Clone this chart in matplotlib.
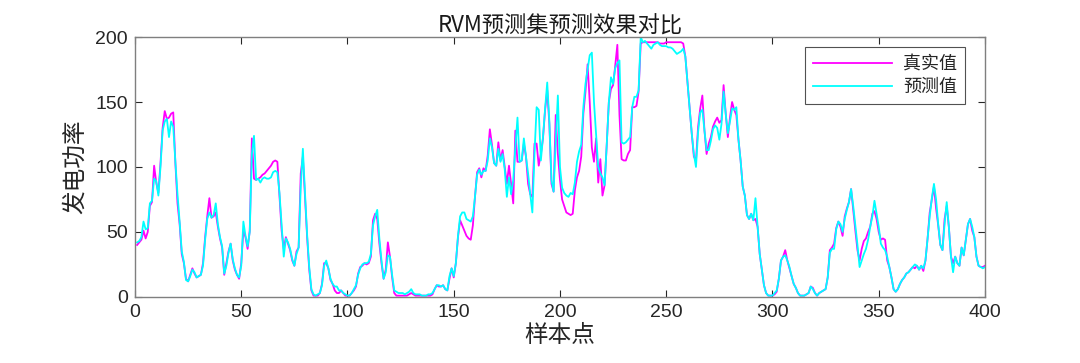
import numpy as np
import matplotlib
matplotlib.use('Agg')
from matplotlib import pyplot as plt

plt.rcParams['font.family'] = ['Noto Sans CJK SC', 'DejaVu Sans']

# 真实值 (samples 1..400)
TRUE_VALS = [
    40, 42, 44, 51, 45, 50, 70, 73, 101, 88,
    80, 103, 130, 143, 137, 138, 141, 142, 103, 72,
    56, 33, 26, 14, 12, 17, 22, 18, 15, 16,
    17, 26, 46, 62, 76, 61, 62, 65, 54, 45,
    38, 17, 26, 35, 41, 28, 21, 17, 14, 26,
    51, 46, 37, 51, 122, 91, 90, 91, 92, 94,
    95, 97, 99, 101, 104, 105, 104, 77, 51, 37,
    46, 41, 36, 28, 24, 35, 38, 95, 108, 77,
    46, 21, 5, 1, 1, 1, 3, 10, 26, 26,
    22, 13, 10, 5, 3, 3, 5, 3, 1, 1,
    1, 3, 5, 8, 18, 23, 24, 26, 25, 26,
    31, 59, 64, 60, 41, 26, 14, 21, 42, 31,
    15, 3, 1, 1, 1, 1, 1, 1, 2, 3,
    2, 1, 1, 1, 1, 1, 1, 1, 1, 2,
    6, 9, 8, 8, 9, 6, 5, 14, 22, 15,
    26, 46, 59, 55, 51, 47, 45, 44, 55, 77,
    96, 99, 92, 99, 97, 109, 129, 117, 103, 101,
    119, 105, 113, 100, 87, 101, 87, 72, 128, 104,
    104, 105, 118, 108, 87, 79, 77, 118, 118, 101,
    110, 122, 144, 159, 133, 87, 81, 140, 110, 90,
    75, 70, 65, 64, 63, 64, 82, 92, 97, 108,
    141, 158, 179, 150, 115, 104, 122, 88, 106, 78,
    86, 117, 150, 160, 163, 178, 194, 140, 106, 105,
    105, 110, 113, 146, 146, 147, 158, 195, 196, 196,
    196, 196, 196, 196, 196, 196, 195, 195, 195, 196,
    196, 196, 196, 196, 196, 196, 196, 195, 185, 165,
    144, 126, 108, 105, 131, 145, 155, 128, 110, 118,
    123, 131, 135, 138, 134, 136, 163, 141, 123, 138,
    150, 144, 140, 121, 105, 85, 78, 63, 60, 64,
    59, 60, 54, 33, 21, 9, 3, 1, 1, 1,
    2, 4, 14, 28, 31, 36, 28, 22, 16, 10,
    7, 3, 1, 1, 1, 2, 3, 8, 7, 3,
    1, 3, 4, 5, 6, 15, 36, 38, 41, 53,
    58, 54, 47, 62, 68, 73, 83, 67, 51, 36,
    28, 37, 43, 45, 50, 54, 64, 66, 60, 50,
    44, 45, 44, 28, 23, 15, 6, 4, 6, 10,
    13, 15, 18, 19, 21, 23, 22, 24, 21, 24,
    20, 28, 45, 65, 75, 85, 68, 55, 40, 36,
    60, 70, 54, 31, 26, 31, 26, 24, 38, 32,
    44, 56, 60, 51, 46, 31, 24, 23, 23, 24,
]

# 预测值 (samples 1..400)
PRED_VALS = [
    42, 43, 46, 58, 52, 53, 72, 74, 91, 89,
    78, 100, 128, 135, 137, 123, 135, 131, 104, 79,
    58, 35, 27, 13, 12, 16, 21, 19, 15, 16,
    17, 24, 44, 60, 65, 61, 63, 72, 56, 46,
    39, 18, 24, 34, 41, 29, 22, 17, 15, 24,
    58, 47, 39, 50, 110, 124, 90, 91, 88, 91,
    92, 91, 91, 92, 96, 97, 96, 80, 55, 31,
    45, 42, 37, 29, 24, 33, 38, 85, 114, 80,
    48, 23, 6, 2, 1, 2, 3, 9, 24, 28,
    22, 14, 10, 8, 8, 5, 5, 3, 2, 1,
    1, 3, 6, 9, 17, 22, 25, 26, 26, 27,
    33, 55, 62, 67, 45, 28, 14, 19, 32, 31,
    17, 5, 4, 3, 3, 3, 2, 3, 4, 6,
    3, 2, 2, 2, 1, 1, 1, 2, 2, 3,
    6, 9, 9, 8, 9, 6, 5, 16, 22, 16,
    26, 47, 62, 65, 65, 60, 59, 58, 62, 77,
    94, 98, 94, 97, 97, 105, 122, 115, 103, 101,
    114, 104, 110, 98, 77, 92, 79, 90, 115, 138,
    104, 105, 122, 108, 95, 79, 65, 110, 146, 144,
    105, 123, 145, 165, 135, 90, 81, 120, 155, 100,
    84, 80, 78, 77, 80, 79, 88, 104, 112, 117,
    146, 164, 175, 186, 188, 150, 125, 100, 95, 92,
    86, 117, 150, 169, 164, 176, 180, 182, 119, 118,
    119, 121, 123, 146, 154, 154, 159, 200, 196, 197,
    195, 193, 191, 194, 195, 196, 194, 193, 193, 193,
    192, 192, 191, 189, 187, 188, 189, 191, 185, 165,
    144, 126, 110, 100, 127, 142, 144, 128, 113, 113,
    120, 129, 132, 130, 121, 133, 158, 141, 126, 135,
    145, 144, 146, 121, 105, 85, 78, 63, 60, 64,
    59, 76, 54, 33, 21, 9, 3, 1, 1, 1,
    3, 5, 14, 28, 31, 32, 28, 23, 16, 10,
    7, 3, 1, 1, 1, 2, 3, 8, 6, 3,
    1, 3, 4, 5, 6, 15, 34, 37, 37, 52,
    58, 56, 50, 60, 67, 73, 83, 70, 55, 40,
    23, 28, 33, 37, 44, 54, 62, 74, 64, 54,
    41, 38, 36, 31, 23, 15, 6, 4, 6, 10,
    13, 15, 18, 19, 21, 23, 25, 24, 21, 24,
    22, 28, 45, 62, 76, 87, 75, 56, 40, 36,
    56, 73, 54, 31, 19, 31, 26, 24, 38, 32,
    44, 56, 60, 54, 46, 31, 24, 23, 22, 23,
]

SAMPLES = np.arange(1, len(TRUE_VALS) + 1)

TITLE = 'RVM预测集预测效果对比'
XLABEL = '样本点'
YLABEL = '发电功率'
LEGEND_LABELS = ['真实值', '预测值']

fig = plt.figure(figsize=(10.8, 3.63), dpi=100)
ax = fig.add_axes([0.125, 0.182, 0.787, 0.716])

ax.plot(SAMPLES, TRUE_VALS, color='#ff00ff', lw=1.3, label=LEGEND_LABELS[0])
ax.plot(SAMPLES, PRED_VALS, color='#00ffff', lw=1.3, label=LEGEND_LABELS[1])

ax.set_xlim(0, 400)
ax.set_ylim(0, 200)
ax.set_xticks(np.arange(0, 401, 50))
ax.set_yticks(np.arange(0, 201, 50))

tick_font = {'family': ['Liberation Sans', 'DejaVu Sans'], 'size': 14}
ax.set_xticklabels([str(v) for v in range(0, 401, 50)], fontdict=tick_font)
ax.set_yticklabels([str(v) for v in range(0, 201, 50)], fontdict=tick_font)
ax.tick_params(direction='in', top=True, right=True, length=5,
               color='#262626', labelcolor='#262626', pad=5)
for sp in ax.spines.values():
    sp.set_color('#7f7f7f')
    sp.set_linewidth(1.0)

ax.set_title(TITLE, fontsize=16, color='#1a1a1a', pad=3)
ax.set_xlabel(XLABEL, fontsize=17, color='#262626', labelpad=2)
ax.set_ylabel(YLABEL, fontsize=17, color='#262626', labelpad=6)

leg = ax.legend(loc='upper right', bbox_to_anchor=(0.977, 0.96), fontsize=13,
                frameon=True, fancybox=False, edgecolor='#262626',
                handlelength=4.4, borderpad=0.45, labelspacing=0.25,
                handletextpad=0.6, borderaxespad=0)
leg.get_frame().set_linewidth(0.8)
for t in leg.get_texts():
    t.set_color('#262626')

fig.savefig('out.png', dpi=100)
